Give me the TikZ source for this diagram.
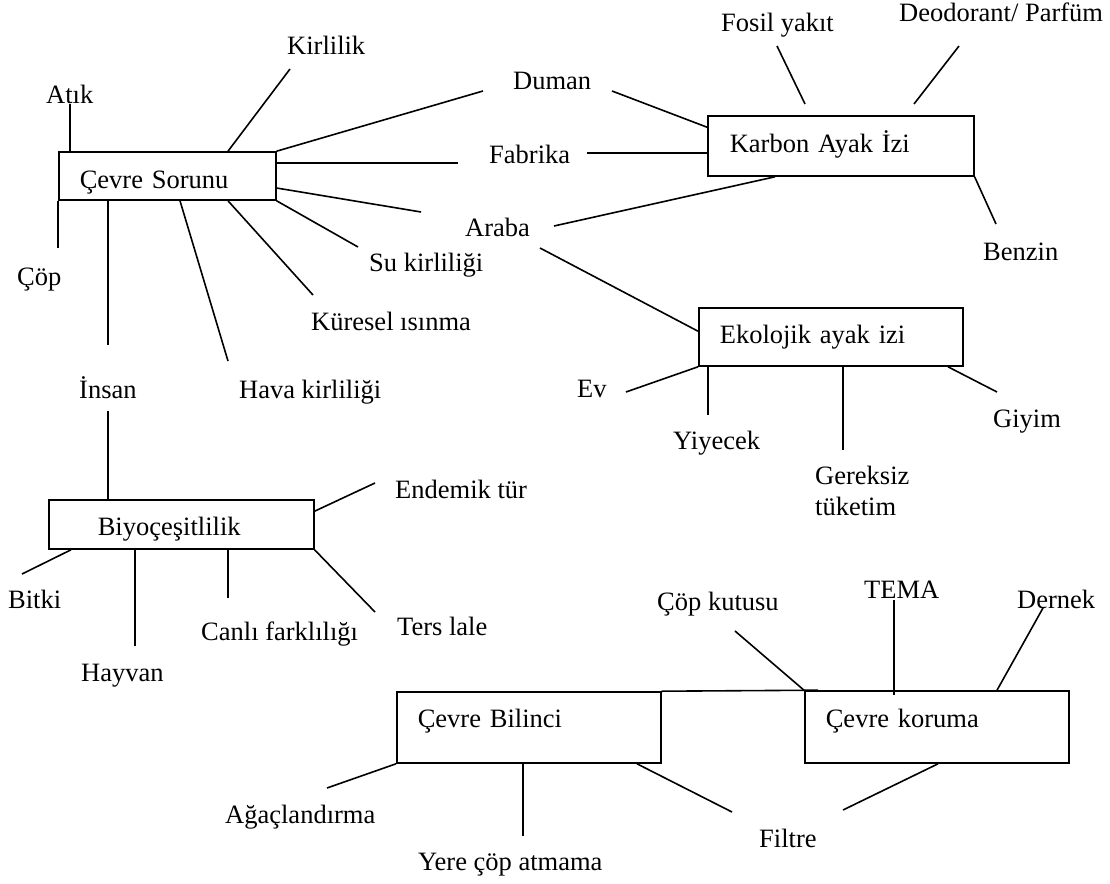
\documentclass[tikz,border=0pt]{standalone}
\usepackage{fontspec}
\setmainfont{Liberation Serif}
\newcommand{\dfont}{\fontsize{26.5}{31}\selectfont}
\tikzset{
  lbl/.style={anchor=base west, inner sep=0pt, font=\dfont, align=left},
  boxn/.style={draw, line width=1.6pt, anchor=base west, inner ysep=0pt, align=left, font=\dfont},
  conn/.style={line width=1.6pt}
}
\begin{document}
\begin{tikzpicture}[x=1pt,y=-1pt]
\useasboundingbox[fill=white] (0,0) rectangle (1110,883);

% boxes
\node[boxn, inner xsep=21pt, text width=175pt, text height=36pt, text depth=12pt] (cs) at (58,188) {Çevre Sorunu};
\node[boxn, inner xsep=22pt, text width=222pt, text height=36pt, text depth=24pt] (kb) at (707,152) {Karbon Ayak İzi};
\node[boxn, inner xsep=21pt, text width=222pt, text height=35pt, text depth=23pt] (ek) at (698,343) {Ekolojik ayak izi};
\node[boxn, inner xsep=49pt, text width=167pt, text height=35pt, text depth=14pt] (bi) at (48,535) {Biyoçeşitlilik};
\node[boxn, inner xsep=21pt, text width=222pt, text height=35pt, text depth=36pt] (bl) at (396,727) {Çevre Bilinci};
\node[boxn, inner xsep=21pt, text width=222pt, text height=36pt, text depth=36pt] (kr) at (804,727) {Çevre koruma};

% labels
\node[lbl] (atik) at (46,103) {Atık};
\node[lbl] (kirlilik) at (287,55) {Kirlilik};
\node[lbl] (cop) at (17,285) {Çöp};
\node[lbl] (duman) at (513,89) {Duman};
\node[lbl] (fabrika) at (489,163) {Fabrika};
\node[lbl] (araba) at (465,236) {Araba};
\node[lbl] (su) at (369,271) {Su kirliliği};
\node[lbl] (kuresel) at (311,330) {Küresel ısınma};
\node[lbl] (hava) at (239,398) {Hava kirliliği};
\node[lbl] (insan) at (79,398) {İnsan};
\node[lbl] (fosil) at (721,32) {Fosil yakıt};
\node[lbl] (deo) at (899,22) {Deodorant/ Parfüm};
\node[lbl] (benzin) at (983,260) {Benzin};
\node[lbl] (ev) at (577,397) {Ev};
\node[lbl] (yiyecek) at (673,449) {Yiyecek};
\node[lbl] (gereksiz) at (815,515) {Gereksiz\\tüketim};
\node[lbl] (giyim) at (993,427) {Giyim};
\node[lbl] (endemik) at (395,498) {Endemik tür};
\node[lbl] (ters) at (397,635) {Ters lale};
\node[lbl] (bitki) at (8,608) {Bitki};
\node[lbl] (hayvan) at (81,681) {Hayvan};
\node[lbl] (canli) at (201,640) {Canlı farklılığı};
\node[lbl] (copkutusu) at (657,610) {Çöp kutusu};
\node[lbl] (tema) at (864,598) {TEMA};
\node[lbl] (dernek) at (1017,608) {Dernek};
\node[lbl] (agac) at (225,823) {Ağaçlandırma};
\node[lbl] (yere) at (418,870) {Yere çöp atmama};
\node[lbl] (filtre) at (759,847) {Filtre};

% free connector ends
\coordinate (atkE) at (70,104);
\coordinate (kirE) at (290,69);
\coordinate (copE) at (58,248);
\coordinate (dumL) at (483,91);
\coordinate (fabL) at (458,163);
\coordinate (arbL) at (421,212);
\coordinate (suE) at (358,247);
\coordinate (kurE) at (313,295);
\coordinate (havE) at (228,361);
\coordinate (insU) at (108,345);
\coordinate (dumR) at (612,91);
\coordinate (fabR) at (587,153);
\coordinate (arbR) at (554,226);
\coordinate (arbD) at (540,248);
\coordinate (fosE1) at (777,46);
\coordinate (fosE2) at (805,104);
\coordinate (deoE1) at (959,46);
\coordinate (deoE2) at (914,104);
\coordinate (benE) at (996,224);
\coordinate (evE) at (626,392);
\coordinate (yiyE) at (708,415);
\coordinate (gerE) at (843,450);
\coordinate (giyE) at (997,392);
\coordinate (insD) at (108,411);
\coordinate (endE) at (375,483);
\coordinate (terE) at (375,612);
\coordinate (bitE) at (22,574);
\coordinate (hayE) at (135,646);
\coordinate (canE) at (228,598);
\coordinate (agaE) at (327,788);
\coordinate (yerE) at (523,836);
\coordinate (filL) at (732,812);
\coordinate (filR) at (843,810);
\coordinate (cpkE) at (735,631);
\coordinate (temE) at (894,600);
\coordinate (derE) at (1043,608);

% Çevre Sorunu connectors
\draw[conn] ([xshift=12pt]cs.north west) -- (atkE);
\draw[conn] ([xshift=170pt]cs.north west) -- (kirE);
\draw[conn] (cs.south west) -- (copE);
\draw[conn] (cs.north east) -- (dumL);
\draw[conn] ([yshift=13pt]cs.east) -- (fabL);
\draw[conn] ([yshift=-12pt]cs.east) -- (arbL);
\draw[conn] (cs.south east) -- (suE);
\draw[conn] ([xshift=170pt]cs.south west) -- (kurE);
\draw[conn] ([xshift=122pt]cs.south west) -- (havE);
\draw[conn] ([xshift=50pt]cs.south west) -- (insU);

% Karbon Ayak İzi connectors
\draw[conn] (dumR) -- ([yshift=-12pt]kb.north west);
\draw[conn] (fabR) -- ([yshift=-7pt]kb.west);
\draw[conn] (arbR) -- ([xshift=68pt]kb.south west);
\draw[conn] (fosE1) -- (fosE2);
\draw[conn] (deoE1) -- (deoE2);
\draw[conn] (kb.south east) -- (benE);

% Ekolojik ayak izi connectors
\draw[conn] (arbD) -- ([yshift=-24pt]ek.north west);
\draw[conn] (ek.south west) -- (evE);
\draw[conn] ([xshift=10pt]ek.south west) -- (yiyE);
\draw[conn] ([xshift=145pt]ek.south west) -- (gerE);
\draw[conn] ([xshift=250pt]ek.south west) -- (giyE);

% Biyoçeşitlilik connectors
\draw[conn] (insD) -- ([xshift=60pt]bi.north west);
\draw[conn] ([yshift=-12pt]bi.north east) -- (endE);
\draw[conn] (bi.south east) -- (terE);
\draw[conn] ([xshift=23pt]bi.south west) -- (bitE);
\draw[conn] ([xshift=87pt]bi.south west) -- (hayE);
\draw[conn] ([xshift=180pt]bi.south west) -- (canE);

% Çevre Bilinci / Çevre koruma connectors
\draw[conn] (bl.north east) -- ([xshift=14pt]kr.north west);
\draw[conn] (bl.south west) -- (agaE);
\draw[conn] ([xshift=127pt]bl.south west) -- (yerE);
\draw[conn] ([xshift=241pt]bl.south west) -- (filL);
\draw[conn] (cpkE) -- (kr.north west);
\draw[conn] (temE) -- ([xshift=90pt,yshift=-5pt]kr.north west);
\draw[conn] (derE) -- ([xshift=193pt]kr.north west);
\draw[conn] ([xshift=134pt]kr.south west) -- (filR);
\end{tikzpicture}
\end{document}
